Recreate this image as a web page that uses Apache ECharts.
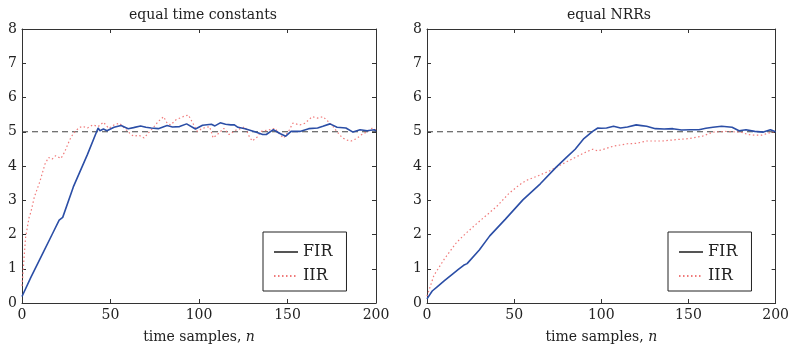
<!DOCTYPE html>
<html>
<head>
<meta charset="utf-8">
<script src="https://cdn.jsdelivr.net/npm/echarts@6/dist/echarts.min.js"></script>
<style>
  html, body { margin: 0; padding: 0; background: #fff; }
  #chart { width: 792px; height: 349px; }
</style>
</head>
<body>
<div id="chart"></div>
<script>
// left panel: equal time constants
const leftFirN = [0, 5, 12, 17, 21, 23, 29, 37, 43, 44, 46, 48, 52, 56, 60, 63, 67, 70, 73, 77, 82, 85, 89, 93, 98, 102, 107, 109, 112, 115, 118, 120, 122, 126, 132, 136, 138, 142, 146, 149, 152, 157, 162, 167, 170, 174, 178, 183, 187, 191, 195, 199, 200];
const leftFirV = [0.19, 0.75, 1.48, 2.0, 2.42, 2.5, 3.39, 4.34, 5.11, 5.03, 5.08, 5.03, 5.13, 5.18, 5.09, 5.12, 5.17, 5.13, 5.11, 5.09, 5.18, 5.14, 5.15, 5.23, 5.08, 5.19, 5.22, 5.17, 5.26, 5.22, 5.2, 5.2, 5.13, 5.09, 4.99, 4.92, 4.92, 5.06, 4.94, 4.87, 5.01, 5.01, 5.09, 5.11, 5.16, 5.23, 5.13, 5.11, 4.99, 5.06, 5.03, 5.06, 5.02];
const leftIirN = [0, 1, 2, 4, 5, 7, 10, 13, 15, 17, 19, 22, 24, 27, 29, 32, 34, 37, 40, 43, 46, 49, 52, 55, 58, 61, 63, 66, 69, 72, 74, 77, 80, 82, 84, 87, 91, 94, 96, 99, 102, 106, 108, 111, 114, 117, 121, 124, 126, 128, 130, 133, 135, 139, 143, 146, 148, 151, 153, 157, 160, 162, 164, 167, 170, 173, 175, 178, 181, 184, 186, 189, 192, 195, 198, 200];
const leftIirV = [0.5, 1.2, 1.9, 2.5, 2.65, 3.1, 3.53, 4.06, 4.25, 4.2, 4.3, 4.22, 4.4, 4.77, 4.95, 5.11, 5.16, 5.11, 5.2, 5.15, 5.28, 5.1, 5.2, 5.25, 5.1, 4.95, 4.87, 4.9, 4.82, 5.0, 5.11, 5.3, 5.44, 5.25, 5.2, 5.35, 5.44, 5.49, 5.3, 5.01, 5.1, 5.15, 4.82, 4.95, 5.1, 4.92, 5.05, 5.1, 5.15, 4.9, 4.73, 4.85, 5.01, 5.05, 5.1, 4.9, 4.82, 5.05, 5.25, 5.2, 5.25, 5.35, 5.44, 5.4, 5.44, 5.3, 5.2, 5.0, 4.82, 4.75, 4.73, 4.8, 4.92, 5.0, 5.11, 5.05];

// right panel: equal NRRs
const rightFirN = [0, 3, 6, 10, 15, 18, 21, 23, 30, 36, 45, 55, 65, 74, 80, 85, 90, 95, 98, 100, 103, 107, 111, 115, 120, 123, 126, 131, 136, 141, 146, 151, 156, 160, 164, 169, 175, 179, 183, 188, 193, 197, 200];
const rightFirV = [0.12, 0.35, 0.48, 0.65, 0.86, 0.98, 1.1, 1.15, 1.55, 1.96, 2.45, 3.01, 3.48, 3.96, 4.25, 4.49, 4.8, 5.01, 5.11, 5.1, 5.11, 5.16, 5.11, 5.14, 5.2, 5.18, 5.16, 5.09, 5.08, 5.09, 5.05, 5.06, 5.06, 5.1, 5.13, 5.16, 5.13, 5.03, 5.06, 5.01, 4.99, 5.06, 5.0];
const rightIirN = [0, 4, 10, 17, 22, 29, 35, 40, 47, 53, 57, 64, 70, 74, 80, 85, 90, 95, 98, 102, 107, 115, 120, 126, 135, 143, 150, 158, 164, 171, 180, 184, 188, 192, 198, 200];
const rightIirV = [0.2, 0.81, 1.29, 1.77, 2.02, 2.34, 2.6, 2.82, 3.2, 3.45, 3.58, 3.72, 3.85, 3.96, 4.12, 4.25, 4.38, 4.49, 4.44, 4.5, 4.58, 4.65, 4.66, 4.73, 4.73, 4.77, 4.8, 4.87, 4.99, 5.01, 4.99, 4.92, 4.9, 4.9, 4.99, 5.0];

const refLevel = 5;
const titles = ['equal time constants', 'equal NRRs'];

const zip = (ns, vs) => ns.map((n, i) => [n, vs[i]]);

const FONT = 'DejaVu Serif';
const BOX = '#333';
const FIR_COLOR = '#2b4ea6';
const IIR_COLOR = '#f07a7a';

const grids = [
  { left: 22, right: 416, top: 29, bottom: 41 },
  { left: 427, right: 11, top: 29, bottom: 41 }
];

const tickStyle = { show: true, inside: true, length: 4, lineStyle: { color: BOX } };
const lineStyle = { show: true, onZero: false, lineStyle: { color: BOX, width: 1 } };

const xAxis = [];
const yAxis = [];
grids.forEach((g, i) => {
  xAxis.push({
    gridIndex: i, type: 'value', min: 0, max: 200, interval: 50, position: 'bottom',
    axisLine: lineStyle, axisTick: tickStyle, splitLine: { show: false },
    axisLabel: { color: '#222', fontFamily: FONT, fontSize: 14, margin: 5 },
    name: '{t|time samples, }{i|n}',
    nameLocation: 'middle',
    nameGap: 27,
    nameTextStyle: {
      rich: {
        t: { fontFamily: FONT, fontSize: 14, color: '#222' },
        i: { fontFamily: FONT, fontSize: 14, color: '#222', fontStyle: 'italic' }
      }
    }
  });
  xAxis.push({
    gridIndex: i, type: 'value', min: 0, max: 200, interval: 50, position: 'top',
    axisLine: lineStyle, axisTick: tickStyle, splitLine: { show: false },
    axisLabel: { show: false }
  });
  yAxis.push({
    gridIndex: i, type: 'value', min: 0, max: 8, interval: 1, position: 'left',
    axisLine: lineStyle, axisTick: tickStyle, splitLine: { show: false },
    axisLabel: { color: '#222', fontFamily: FONT, fontSize: 14, margin: 5 }
  });
  yAxis.push({
    gridIndex: i, type: 'value', min: 0, max: 8, interval: 1, position: 'right',
    axisLine: lineStyle, axisTick: tickStyle, splitLine: { show: false },
    axisLabel: { show: false }
  });
});

const panels = [
  { fir: zip(leftFirN, leftFirV), iir: zip(leftIirN, leftIirV) },
  { fir: zip(rightFirN, rightFirV), iir: zip(rightIirN, rightIirV) }
];

const series = [];
panels.forEach((p, i) => {
  series.push({
    name: 'ref' + i, type: 'line', xAxisIndex: i * 2, yAxisIndex: i * 2,
    data: [[0, refLevel], [200, refLevel]], symbol: 'none', silent: true,
    lineStyle: { color: '#444', width: 1.2, type: [6, 4] }, z: 1
  });
  series.push({
    name: 'IIR', type: 'line', xAxisIndex: i * 2, yAxisIndex: i * 2,
    data: p.iir, symbol: 'none',
    lineStyle: { color: IIR_COLOR, width: 1.2, type: [1.5, 2.5] },
    itemStyle: { color: IIR_COLOR }, z: 2
  });
  series.push({
    name: 'FIR', type: 'line', xAxisIndex: i * 2, yAxisIndex: i * 2,
    data: p.fir, symbol: 'none',
    lineStyle: { color: FIR_COLOR, width: 1.6 },
    itemStyle: { color: FIR_COLOR }, z: 3
  });
});

const legendBase = {
  orient: 'vertical', top: 232,
  data: [
    { name: 'FIR', itemStyle: { opacity: 0 }, lineStyle: { color: '#555' } },
    { name: 'IIR', itemStyle: { opacity: 0 } }
  ],
  itemWidth: 24, itemHeight: 14, itemGap: 8,
  padding: [12, 14, 7, 10],
  borderColor: '#222', borderWidth: 1, borderRadius: 0,
  backgroundColor: '#fff',
  selectedMode: false,
  textStyle: { fontFamily: FONT, fontSize: 16, color: '#222' }
};

const option = {
  animation: false,
  backgroundColor: '#fff',
  title: titles.map((t, i) => ({
    text: t,
    left: i === 0 ? 198 : 604,
    textAlign: 'center',
    top: 3,
    textStyle: { fontFamily: FONT, fontSize: 14, fontWeight: 'normal', color: '#222' }
  })),
  grid: grids,
  xAxis: xAxis,
  yAxis: yAxis,
  legend: [
    Object.assign({}, legendBase, { left: 263 }),
    Object.assign({}, legendBase, { left: 668 })
  ],
  series: series
};

const chart = echarts.init(document.getElementById('chart'));
chart.setOption(option);
</script>
</body>
</html>
